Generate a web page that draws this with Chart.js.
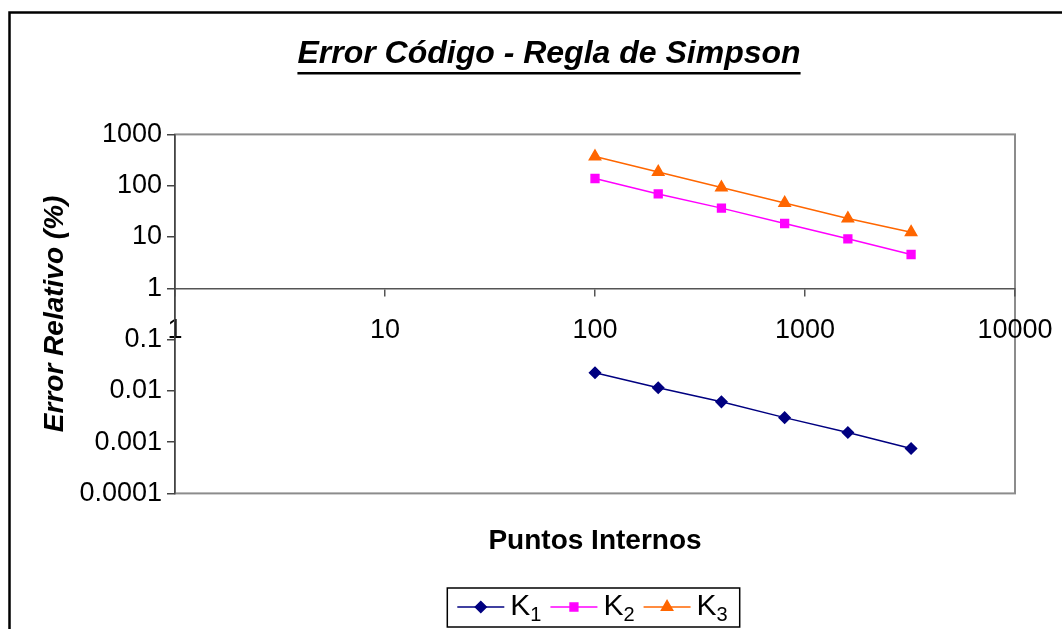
<!DOCTYPE html>
<html>
<head>
<meta charset="utf-8">
<title>Error Código - Regla de Simpson</title>
<script src="https://cdn.jsdelivr.net/npm/chart.js@4"></script>
<style>
    html, body { margin: 0; padding: 0; background: #fff; overflow: hidden; }
    #wrap { width: 1062px; height: 629px; overflow: hidden; }
</style>
</head>
<body>
<div id="wrap"><canvas id="myChart" width="1088" height="629"></canvas></div>
<script>
// datos
const puntosInternos = [100, 200, 400, 800, 1600, 3200];
const errorK1 = [0.0225, 0.0115, 0.0061, 0.003, 0.00154, 0.00075];
const errorK2 = [138, 69, 36.5, 18.3, 9.2, 4.55];
const errorK3 = [370, 185, 92, 46, 23, 12.4];
const seriesNames = ['K1', 'K2', 'K3'];
const xTicks = [1, 10, 100, 1000, 10000];
const yTicks = [0.0001, 0.001, 0.01, 0.1, 1, 10, 100, 1000];

const fontFamily = "'Liberation Sans', Arial, sans-serif";

function toPoints(values) {
    return puntosInternos.map(function (x, i) { return { x: x, y: values[i] }; });
}

// marco negro exterior y borde gris del area de trazado
const framePlugin = {
    id: 'frame',
    beforeDraw: function (chart) {
        const ctx = chart.ctx;
        const a = chart.chartArea;
        ctx.save();
        ctx.strokeStyle = '#000';
        ctx.lineWidth = 2.5;
        ctx.strokeRect(9.5, 12.5, 1200, 800);
        ctx.strokeStyle = '#8c8c8c';
        ctx.lineWidth = 2;
        ctx.strokeRect(a.left, a.top, a.right - a.left, a.bottom - a.top);
        ctx.restore();
    }
};

// subrayado del titulo
const underlinePlugin = {
    id: 'underline',
    afterDraw: function (chart) {
        const t = chart.titleBlock;
        if (!t) return;
        const ctx = chart.ctx;
        ctx.save();
        ctx.font = 'italic bold 32px ' + fontFamily;
        const w = ctx.measureText(chart.options.plugins.title.text).width;
        const cx = (t.left + t.right) / 2;
        ctx.fillStyle = '#000';
        ctx.fillRect(cx - w / 2, 72, w, 2.5);
        ctx.restore();
    }
};

// leyenda con linea + marcador y subindice
const legendPlugin = {
    id: 'excelLegend',
    afterDraw: function (chart) {
        const ctx = chart.ctx;
        const lineLen = 47, gapText = 6, gapItem = 9, padL = 10, padR = 12;
        ctx.save();
        const items = chart.data.datasets.map(function (ds) {
            ctx.font = '30px ' + fontFamily;
            const wMain = ctx.measureText(ds.label.slice(0, -1)).width;
            ctx.font = '20px ' + fontFamily;
            const wSub = ctx.measureText(ds.label.slice(-1)).width;
            return { ds: ds, wMain: wMain, wSub: wSub, w: lineLen + gapText + wMain + wSub };
        });
        let total = padL + padR + gapItem * (items.length - 1);
        items.forEach(function (it) { total += it.w; });
        const cx = 593.5, top = 588, h = 39;
        const left = cx - total / 2;
        ctx.strokeStyle = '#000';
        ctx.lineWidth = 1.5;
        ctx.strokeRect(left, top, total, h);
        let x = left + padL;
        const cy = top + 19;
        items.forEach(function (it) {
            const ds = it.ds;
            ctx.strokeStyle = ds.borderColor;
            ctx.lineWidth = ds.borderWidth;
            ctx.beginPath();
            ctx.moveTo(x, cy);
            ctx.lineTo(x + lineLen, cy);
            ctx.stroke();
            ctx.fillStyle = ds.pointBackgroundColor;
            ctx.strokeStyle = ds.pointBorderColor;
            Chart.helpers.drawPoint(ctx, {
                pointStyle: ds.pointStyle,
                radius: ds.pointRadius,
                borderWidth: 1,
                rotation: 0
            }, x + lineLen / 2, cy);
            x += lineLen + gapText;
            ctx.fillStyle = '#000';
            ctx.textBaseline = 'middle';
            ctx.textAlign = 'left';
            ctx.font = '30px ' + fontFamily;
            ctx.fillText(ds.label.slice(0, -1), x, cy);
            x += it.wMain;
            ctx.font = '20px ' + fontFamily;
            ctx.fillText(ds.label.slice(-1), x, cy + 8);
            x += it.wSub + gapItem;
        });
        ctx.restore();
    }
};

const ctx = document.getElementById('myChart').getContext('2d');

const myChart = new Chart(ctx, {
    type: 'scatter',
    data: {
        datasets: [{
            label: seriesNames[0],
            data: toPoints(errorK1),
            showLine: true,
            borderColor: '#000080',
            backgroundColor: '#000080',
            pointBackgroundColor: '#000080',
            pointBorderColor: '#000080',
            borderWidth: 1.5,
            pointStyle: 'rectRot',
            pointRadius: 5.5
        }, {
            label: seriesNames[1],
            data: toPoints(errorK2),
            showLine: true,
            borderColor: '#ff00ff',
            backgroundColor: '#ff00ff',
            pointBackgroundColor: '#ff00ff',
            pointBorderColor: '#ff00ff',
            borderWidth: 1.5,
            pointStyle: 'rect',
            pointRadius: 5.5
        }, {
            label: seriesNames[2],
            data: toPoints(errorK3),
            showLine: true,
            borderColor: '#ff6600',
            backgroundColor: '#ff6600',
            pointBackgroundColor: '#ff6600',
            pointBorderColor: '#ff6600',
            borderWidth: 1.5,
            pointStyle: 'triangle',
            pointRadius: 6.5
        }]
    },
    options: {
        responsive: false,
        animation: false,
        layout: {
            padding: { left: 10, right: 0, top: 14, bottom: 66 }
        },
        scales: {
            x: {
                type: 'logarithmic',
                min: 1,
                max: 10000,
                position: { y: 1 },
                afterBuildTicks: function (scale) {
                    scale.ticks = xTicks.map(function (v) { return { value: v }; });
                },
                ticks: {
                    color: '#000',
                    font: { family: fontFamily, size: 27 },
                    padding: 19,
                    maxRotation: 0,
                    autoSkip: false,
                    callback: function (value) { return String(value); }
                },
                grid: {
                    drawOnChartArea: false,
                    color: '#555',
                    tickLength: 7,
                    lineWidth: 1.5
                },
                border: { color: '#555', width: 1.5 }
            },
            x2: {
                type: 'linear',
                position: 'bottom',
                ticks: { display: false },
                grid: { display: false },
                border: { display: false },
                title: {
                    display: true,
                    text: 'Puntos Internos',
                    color: '#000',
                    font: { family: fontFamily, size: 28, weight: 'bold' },
                    padding: { top: 23, bottom: 5 }
                }
            },
            y: {
                type: 'logarithmic',
                min: 0.0001,
                max: 1000,
                position: 'left',
                afterBuildTicks: function (scale) {
                    scale.ticks = yTicks.map(function (v) { return { value: v }; });
                },
                afterFit: function (scale) {
                    scale.width = 165;
                },
                ticks: {
                    color: '#000',
                    font: { family: fontFamily, size: 27 },
                    padding: 5,
                    autoSkip: false,
                    callback: function (value) { return String(value); }
                },
                grid: {
                    drawOnChartArea: false,
                    color: '#444',
                    tickLength: 8,
                    lineWidth: 1.5
                },
                border: { color: '#444', width: 1.5 },
                title: {
                    display: true,
                    text: 'Error Relativo (%)',
                    color: '#000',
                    font: { family: fontFamily, size: 28, weight: 'bold', style: 'italic' },
                    padding: { top: 28, bottom: 0 }
                }
            },
            // eje vacio a la derecha: reserva el espacio fuera del area de trazado
            y2: {
                type: 'linear',
                position: 'right',
                ticks: { display: false },
                grid: { display: false },
                border: { display: false },
                afterFit: function (scale) {
                    scale.width = 73;
                }
            }
        },
        plugins: {
            legend: { display: false },
            tooltip: { enabled: false },
            title: {
                display: true,
                text: 'Error Código - Regla de Simpson',
                color: '#000',
                font: { family: fontFamily, size: 32, weight: 'bold', style: 'italic' },
                padding: { top: 21, bottom: 61 }
            }
        }
    },
    plugins: [framePlugin, underlinePlugin, legendPlugin]
});
</script>
</body>
</html>
